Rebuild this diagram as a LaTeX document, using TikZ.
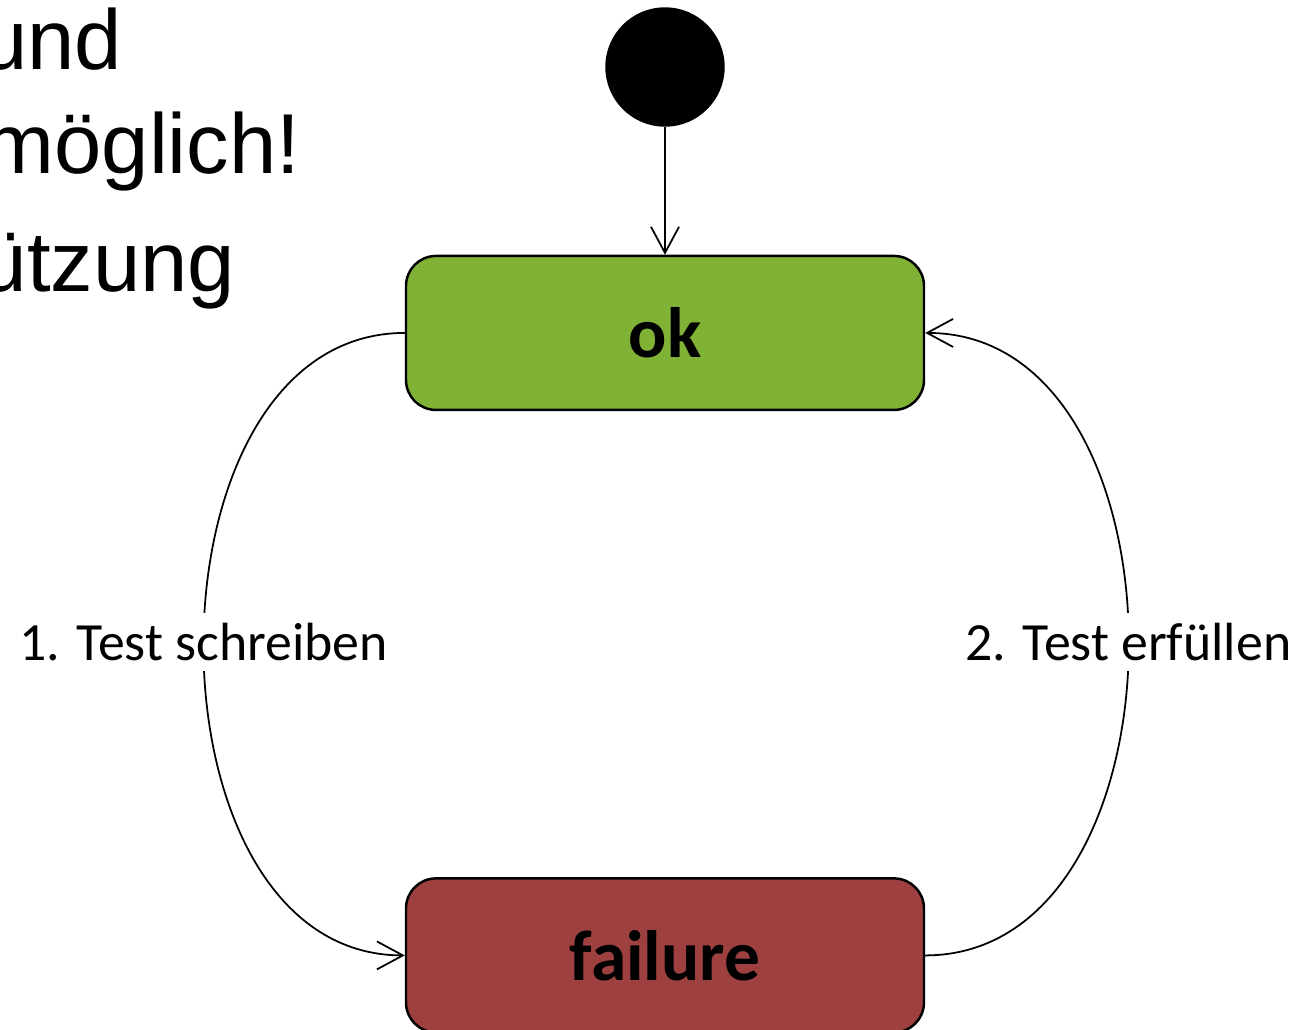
\documentclass[tikz,border=0pt]{standalone}
\usepackage{fontspec}
\setmainfont{Carlito}
\newfontfamily\slidefont{Liberation Sans}
\usetikzlibrary{arrows.meta,positioning}

\begin{document}
\begin{tikzpicture}[
		state/.style={draw,line width=0.7pt,rounded corners=0.3cm,minimum width=5.18cm,minimum height=1.54cm,font=\fontsize{20.3}{24}\selectfont\bfseries},
		trans/.style={line width=0.5pt,-{Straight Barb[length=2.6mm,width=2.8mm]}},
		edgelabel/.style={fill=white,inner sep=3pt,yshift=0.6pt,font=\fontsize{15.3}{18}\selectfont},
		slidetext/.style={anchor=base east,inner sep=0,font=\slidefont\fontsize{24.2}{29}\selectfont}]
		    \definecolor{okgreen}{rgb}{0.50,0.70,0.21}
		    \definecolor{failred}{rgb}{0.62,0.25,0.25}
		    \useasboundingbox (0,0) rectangle (13.04,-10.30);
		    % bullet text of the slide, cut at the left
		    \node[slidetext] (line1) at (1.23,-0.69) {und};
		    \node[slidetext] (line2) at (3.01,-1.73) {möglich!};
		    \node[slidetext] (line3) at (2.36,-2.91) {ützung};
		    % states
		    \node(start) [circle,draw,fill=black,minimum size=1.18cm,inner sep=0] at (6.65,-0.67) {};
		    \node[state,fill=okgreen,below = 1.28cm of start] (ok) {ok};
		    \node[state,fill=failred,below = 4.66cm of ok] (failure) {failure};
		    % transitions
		    \draw[trans] (start) -- (ok);
		    \draw[trans] (ok.west) .. controls +(-2.68,0) and +(-2.68,0) .. node[edgelabel] {1. Test schreiben} (failure.west);
		    \draw[trans] (failure.east) .. controls +(2.71,0) and +(2.71,0) .. node[edgelabel] {2. Test erfüllen} (ok.east);
\end{tikzpicture}
\end{document}
